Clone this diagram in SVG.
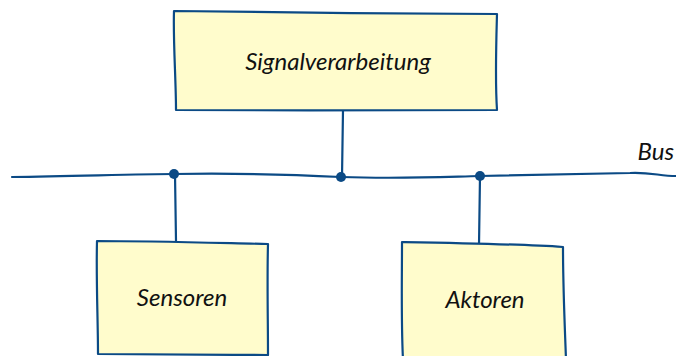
<svg xmlns="http://www.w3.org/2000/svg" width="676" height="356" viewBox="0 0 676 356">
<defs>
<style>
.box{fill:#fffccc;stroke:#0b4a85;stroke-width:2.2;stroke-linejoin:round}
.ln{fill:none;stroke:#0b4a85;stroke-width:2.2;stroke-linecap:round}
.dot{fill:#0b4a85}
.t{font-family:Lato,"Open Sans",sans-serif;font-style:italic;font-size:24px;fill:#111;text-anchor:middle}
</style>
</defs>
<g id="connectors">
<path class="ln" d="M12,177 C80,176 140,174 174,174 C230,173 300,175 341,177 C400,179 440,177 480,176 C540,175 600,174 630,173 C650,172 660,176 676,176"/>
<path class="ln" d="M343,110 L342,177"/>
<path class="ln" d="M175,174 L176,241"/>
<path class="ln" d="M480,176 L479,245"/>
<circle class="dot" cx="174" cy="174" r="5"/>
<circle class="dot" cx="341" cy="177" r="5"/>
<circle class="dot" cx="480" cy="176" r="5"/>
</g>
<g id="signalverarbeitung">
<path class="box" d="M174,11 C260,12 400,14 497,14 C496,50 495,80 497,110 C400,110 280,111 176,110 C176,80 173,40 174,11 Z"/>
<text class="t" x="338" y="70">Signalverarbeitung</text>
</g>
<g id="sensoren">
<path class="box" d="M97,241 C150,241 220,243 268,244 C267,280 268,320 268,355 C210,355 150,354 98,354 C98,320 96,280 97,241 Z"/>
<text class="t" x="182" y="306">Sensoren</text>
</g>
<g id="aktoren">
<path class="box" d="M402,242 C460,243 520,244 563,247 C563,290 565,330 566,360 L403,360 C401,320 402,280 402,242 Z"/>
<text class="t" x="485" y="308">Aktoren</text>
</g>
<g id="bus-label">
<text class="t" x="674" y="160" style="text-anchor:end">Bus</text>
</g>
</svg>
